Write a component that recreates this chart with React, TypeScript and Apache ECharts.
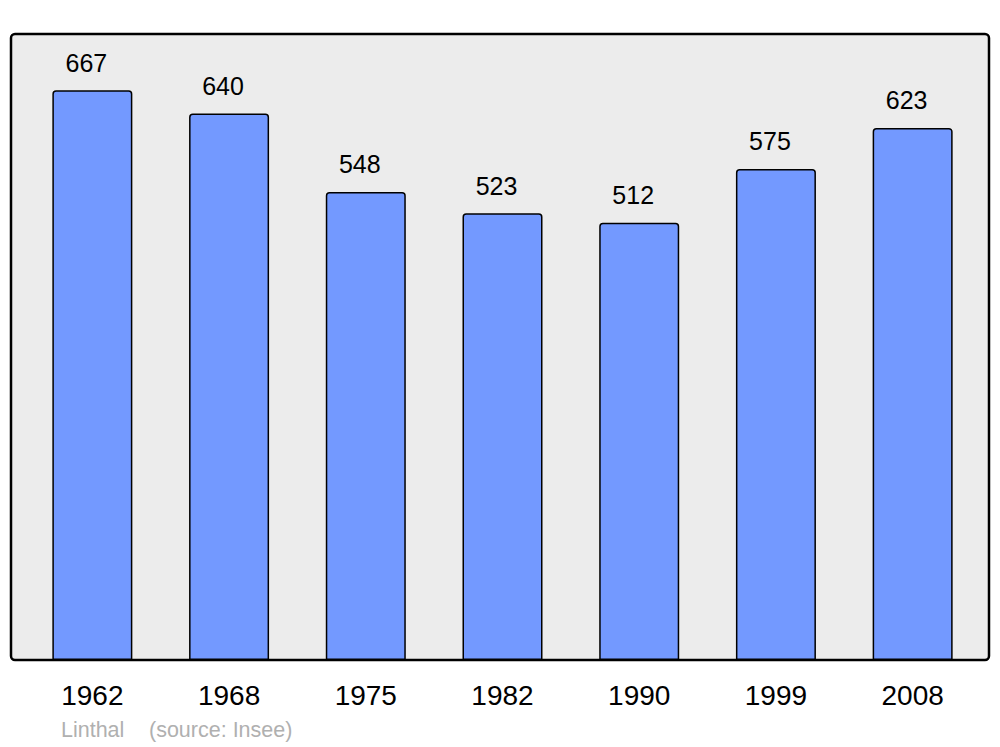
import React, { useEffect, useRef } from "react";
import * as echarts from "echarts";

const years = ["1962", "1968", "1975", "1982", "1990", "1999", "2008"];
const population = [667, 640, 548, 523, 512, 575, 623];
const footerName = "Linthal";
const footerSource = "(source: Insee)";

export default function App() {
  const ref = useRef<HTMLDivElement>(null);
  useEffect(() => {
    if (!ref.current) return;
    const chart = echarts.init(ref.current, null, { renderer: "svg" });
    chart.setOption({
      animation: false,
      backgroundColor: "#ffffff",
      graphic: [
        {
          type: "rect",
          z: -10,
          shape: { x: 11, y: 34, width: 978, height: 626, r: 4 },
          style: { fill: "#ececec", stroke: "#000000", lineWidth: 2.5 },
          silent: true,
        },
        {
          type: "text",
          x: 61,
          y: 730,
          style: {
            text: footerName,
            fill: "#b0b0b0",
            font: '21.5px "Liberation Sans", Arial, sans-serif',
            verticalAlign: "middle",
          },
        },
        {
          type: "text",
          x: 149,
          y: 730,
          style: {
            text: footerSource,
            fill: "#b0b0b0",
            font: '21.5px "Liberation Sans", Arial, sans-serif',
            verticalAlign: "middle",
          },
        },
      ],
      grid: { left: 24, right: 19, top: 34, bottom: 87, containLabel: false },
      xAxis: {
        type: "category",
        data: years,
        axisLine: { show: false },
        axisTick: { show: false },
        axisLabel: {
          color: "#000000",
          fontSize: 28,
          fontFamily: '"Liberation Sans", Arial, sans-serif',
          margin: 21,
        },
      },
      yAxis: {
        type: "value",
        min: 0,
        max: 733,
        show: false,
        splitLine: { show: false },
      },
      series: [
        {
          type: "bar",
          data: population,
          barWidth: 80,
          itemStyle: {
            color: "#7399ff",
            borderColor: "#000000",
            borderWidth: 1.5,
            borderRadius: [3, 3, 0, 0],
          },
          label: {
            show: true,
            position: "top",
            distance: 15,
            offset: [-6, 0],
            color: "#000000",
            fontSize: 25,
            fontFamily: '"Liberation Sans", Arial, sans-serif',
          },
        },
      ],
    });
    return () => chart.dispose();
  }, []);
  return <div ref={ref} style={{ width: 1000, height: 747, position: "absolute", left: 0, top: 0 }} />;
}
